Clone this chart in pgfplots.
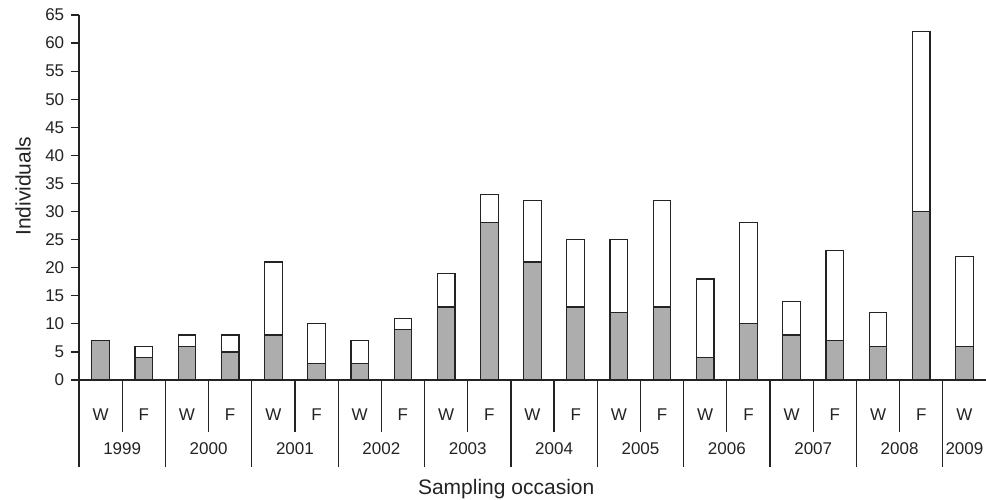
\documentclass[border=0pt]{standalone}
\usepackage{pgfplots}
\pgfplotsset{compat=1.18}
\usepackage{pgfplotstable}
\usepackage{fontspec}
\setmainfont{Liberation Sans}
\definecolor{bargray}{RGB}{173,173,173}
\definecolor{ink}{RGB}{35,35,35}
\pgfplotstableread{
x g w
0 7 0
1 4 2
2 6 2
3 5 3
4 8 13
5 3 7
6 3 4
7 9 2
8 13 6
9 28 5
10 21 11
11 13 12
12 12 13
13 13 19
14 4 14
15 10 18
16 8 6
17 7 16
18 6 6
19 30 32
20 6 16
}\datatable
\begin{document}
\begin{tikzpicture}[x=1pt,y=1pt]
\useasboundingbox (0,0) rectangle (986,500);
\begin{axis}[
  at={(79pt,120pt)}, anchor=south west,
  scale only axis, width=907pt, height=365pt,
  xmin=-0.5, xmax=20.5, ymin=0, ymax=65,
  enlargelimits=false,
  axis x line*=bottom, axis y line*=left,
  axis line style={ink, line width=1.2pt},
  ybar stacked, bar width=17.6pt,
  ytick={0,5,...,65},
  xtick={-0.5,1.5,...,19.5},
  minor xtick={0.5,2.5,...,18.5},
  xticklabels={},
  tick align=outside,
  xtick style={ink, line width=1.2pt, /pgfplots/major tick length=87pt, /pgfplots/minor tick length=52pt},
  ytick style={ink, line width=1.2pt, /pgfplots/major tick length=8pt},
  yticklabel style={font=\fontsize{17}{20}\selectfont, text=ink, xshift=-7pt},
  /pgf/number format/assume math mode=true,
  ylabel={Individuals}, xlabel={Sampling occasion},
  label style={font=\fontsize{21}{25}\selectfont, text=ink},
  ylabel style={at={(axis description cs:-0.0617,0.531)}, anchor=center},
  xlabel style={at={(axis description cs:0.471,-0.315)}, anchor=base},
  clip=false,
]
\addplot[fill=bargray, draw=ink, line width=1.2pt] table[x=x,y=g]{\datatable};
\addplot[fill=white, draw=ink, line width=1.2pt] table[x=x,y=w]{\datatable};
\pgfplotsinvokeforeach{0,2,...,20}{
  \node[anchor=base, yshift=-41pt, text=ink, font=\fontsize{17}{20}\selectfont] at (axis cs:#1,0) {W};
}
\pgfplotsinvokeforeach{1,3,...,19}{
  \node[anchor=base, yshift=-41pt, text=ink, font=\fontsize{17}{20}\selectfont] at (axis cs:#1,0) {F};
}
\tikzset{yr/.style={anchor=base, yshift=-75pt, text=ink, font=\fontsize{17}{20}\selectfont}}
\node[yr] at (axis cs:0.5,0) {1999};
\node[yr] at (axis cs:2.5,0) {2000};
\node[yr] at (axis cs:4.5,0) {2001};
\node[yr] at (axis cs:6.5,0) {2002};
\node[yr] at (axis cs:8.5,0) {2003};
\node[yr] at (axis cs:10.5,0) {2004};
\node[yr] at (axis cs:12.5,0) {2005};
\node[yr] at (axis cs:14.5,0) {2006};
\node[yr] at (axis cs:16.5,0) {2007};
\node[yr] at (axis cs:18.5,0) {2008};
\node[yr] at (axis cs:20,0) {2009};
\end{axis}
\end{tikzpicture}
\end{document}
